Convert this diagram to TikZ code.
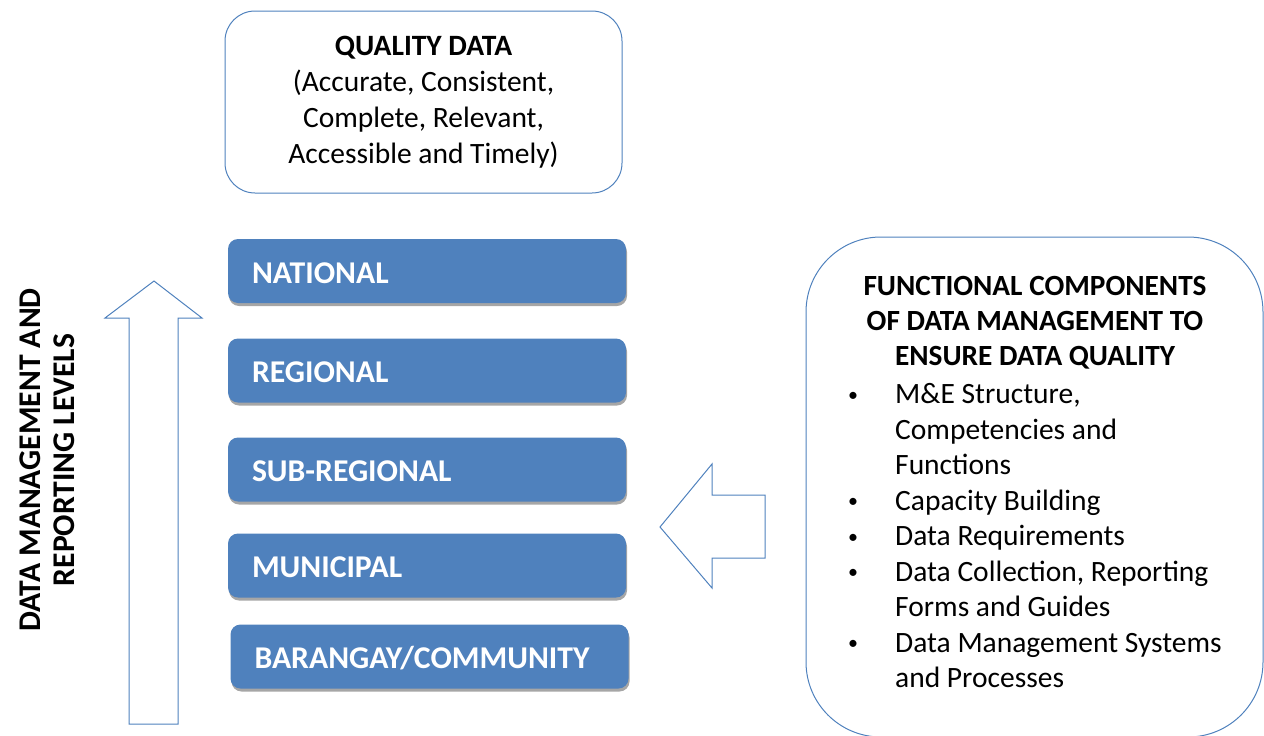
\documentclass[tikz,border=0pt]{standalone}
\usepackage{fontspec}
\setmainfont{Carlito}
\usetikzlibrary{shadows}
\definecolor{accentblue}{HTML}{4F81BD}

\begin{document}
\begin{tikzpicture}
	[x=1pt,y=1pt,
	 roundbox/.style={draw=accentblue,line width=1pt},
	 levelbox/.style={fill=accentblue,rounded corners=10pt,
	   minimum width=398pt,minimum height=64pt,
	   text width=350pt,inner xsep=24pt,align=left,
	   text height=24pt,text depth=0pt,text=white,
	   font=\bfseries\fontsize{31.7}{37}\selectfont,
	   drop shadow={shadow xshift=1pt,shadow yshift=-3pt,fill=black!35,opacity=1}},
	 blockarrow/.style={draw=accentblue,line width=1pt,line join=miter}]
\useasboundingbox (0,0) rectangle (1264,-736);
% top box
\node[roundbox,rounded corners=30pt,minimum width=397pt,minimum height=182pt,
      align=center,font=\fontsize{29.5}{36}\selectfont]
  (quality) at (423.5,-102)
  {\textbf{QUALITY DATA}\\(Accurate, Consistent,\\Complete, Relevant,\\Accessible and Timely)};
% reporting levels, top to bottom
\foreach \name/\x/\y/\txt in {national/427/271/NATIONAL,
    regional/427/370.5/REGIONAL,
    subregional/427/469.5/SUB-REGIONAL,
    municipal/427/565.5/MUNICIPAL,
    barangay/429.5/656.5/BARANGAY\slash COMMUNITY}
  \node[levelbox] (\name) at (\x,-\y) {\txt};
% side caption
\node[rotate=90,align=center,font=\bfseries\fontsize{31.6}{34}\selectfont]
  (levels) at (47,-460) {DATA MANAGEMENT AND\\REPORTING LEVELS};
% up arrow
\draw[blockarrow] (129,-724) -- (129,-318) -- (105,-318) -- (154,-281)
  -- (202,-318) -- (178,-318) -- (178,-724) -- cycle;
% left arrow
\draw[blockarrow] (765,-495) -- (712,-495) -- (712,-464) -- (660,-527)
  -- (712,-588) -- (712,-558) -- (765,-558) -- cycle;
% components box
\node[roundbox,rounded corners=75pt,minimum width=457pt,minimum height=500pt]
  (components) at (1034.5,-487) {};
\node[align=center,anchor=north,inner sep=0pt,font=\bfseries\fontsize{29.3}{35}\selectfont]
  (heading) at (1035,-271)
  {\strut FUNCTIONAL COMPONENTS\\OF DATA MANAGEMENT TO\\ENSURE DATA QUALITY};
\def\bul{\makebox[48pt][l]{\hspace*{1pt}\raisebox{2.5pt}{\fontsize{20}{20}\selectfont\textbullet}}}
\node[align=left,anchor=north west,inner sep=0pt,font=\fontsize{29.5}{35.5}\selectfont]
  (items) at (847,-378.6)
  {\strut\bul M\&E Structure,\\
   \hspace*{48pt}Competencies and\\
   \hspace*{48pt}Functions\\
   \bul Capacity Building\\
   \bul Data Requirements\\
   \bul Data Collection, Reporting\\
   \hspace*{48pt}Forms and Guides\\
   \bul Data Management Systems\\
   \hspace*{48pt}and Processes};
\end{tikzpicture}
\end{document}
